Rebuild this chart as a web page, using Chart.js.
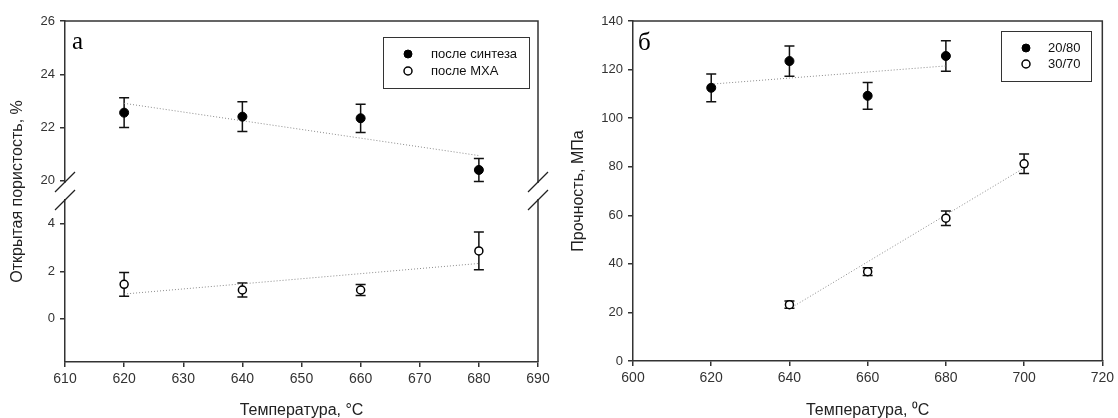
<!DOCTYPE html>
<html><head><meta charset="utf-8">
<script src="https://cdn.jsdelivr.net/npm/chart.js@4.4.1/dist/chart.umd.min.js"></script>
<style>
html,body{margin:0;padding:0;background:#fff;}
#wrap{position:relative;width:1118px;height:418px;overflow:hidden;background:#fff;}
.pane{position:absolute;top:0;width:559px;height:418px;}
</style></head><body>
<div id="wrap">
<div class="pane" style="left:0"><canvas id="cA" width="559" height="418"></canvas></div>
<div class="pane" style="left:559px"><canvas id="cB" width="559" height="418"></canvas></div>
</div>
<script>
// ---------- data: panel а ----------
const tempA = [620, 640, 660, 680];
const synthVals = [22.56, 22.41, 22.35, 20.41];
const synthErr = [0.56, 0.56, 0.53, 0.43];
const mhaVals = [1.45, 1.21, 1.21, 2.86];
const mhaErr = [0.50, 0.30, 0.23, 0.80];
const trendAX = [620, 680];
const synthTrendY = [22.91, 20.95];
const mhaTrendY = [1.04, 2.33];
const xTicksA = [610, 620, 630, 640, 650, 660, 670, 680, 690];
const yTopTicksA = [20, 22, 24, 26];
const yBotTicksA = [0, 2, 4];
// ---------- data: panel б ----------
const tempB1 = [620, 640, 660, 680];
const vals2080 = [112.5, 123.5, 109.2, 125.6];
const err2080 = [5.7, 6.2, 5.5, 6.3];
const tempB2 = [640, 660, 680, 700];
const vals3070 = [23.2, 36.8, 58.8, 81.2];
const err3070 = [1.5, 1.6, 3.0, 4.0];
const trend2080X = [620, 680];
const trend2080Y = [114.0, 121.5];
const trend3070X = [640, 700];
const trend3070Y = [21.5, 79.5];
const xTicksB = [600, 620, 640, 660, 680, 700, 720];
const yTicksB = [0, 20, 40, 60, 80, 100, 120, 140];

const pts = (xs, ys) => xs.map((x, i) => ({x: x, y: ys[i]}));

const FONT = "'Liberation Sans', Arial, Helvetica, sans-serif";
const SERIF = "'Liberation Serif', 'Times New Roman', serif";
const AXIS = '#333';
Chart.defaults.font.family = FONT;
Chart.defaults.color = '#222';
Chart.defaults.animation = false;

const errorBarPlugin = {
  id: 'errbars',
  beforeDatasetsDraw(chart) {
    const ctx = chart.ctx;
    chart.data.datasets.forEach((ds, i) => {
      if (!ds.errors) return;
      const meta = chart.getDatasetMeta(i);
      const ys = chart.scales[ds.yAxisID];
      ctx.save();
      ctx.strokeStyle = '#111';
      ctx.lineWidth = 1.5;
      meta.data.forEach((pt, j) => {
        const v = ds.data[j].y, e = ds.errors[j];
        const yt = ys.getPixelForValue(v + e), yb = ys.getPixelForValue(v - e);
        const x = pt.x;
        ctx.beginPath();
        ctx.moveTo(x, yt); ctx.lineTo(x, yb);
        ctx.moveTo(x - 5, yt); ctx.lineTo(x + 5, yt);
        ctx.moveTo(x - 5, yb); ctx.lineTo(x + 5, yb);
        ctx.stroke();
      });
      ctx.restore();
    });
  }
};

const framePlugin = {
  id: 'frame',
  afterDraw(chart, args, opts) {
    const ctx = chart.ctx, a = chart.chartArea;
    ctx.save();
    ctx.strokeStyle = AXIS;
    ctx.lineWidth = 1.5;
    ctx.beginPath();
    ctx.moveTo(a.left, a.top); ctx.lineTo(a.right, a.top); ctx.lineTo(a.right, a.bottom);
    ctx.stroke();
    if (opts.breakScale) {
      const yb = chart.scales[opts.breakScale].top;
      [a.left, a.right].forEach(x => {
        ctx.fillStyle = '#fff';
        ctx.fillRect(x - 3, yb - 8, 6, 16);
        ctx.strokeStyle = '#222';
        ctx.lineWidth = 1.3;
        [yb - 9, yb + 9].forEach(cy => {
          ctx.beginPath();
          ctx.moveTo(x - 10, cy + 10);
          ctx.lineTo(x + 10, cy - 10);
          ctx.stroke();
        });
      });
    }
    ctx.restore();
  }
};

const boxLegendPlugin = {
  id: 'boxLegend',
  afterDraw(chart, args, o) {
    const ctx = chart.ctx;
    ctx.save();
    ctx.lineWidth = 1;
    ctx.strokeStyle = '#333';
    ctx.strokeRect(o.x + 0.5, o.y + 0.5, o.w, o.h);
    ctx.font = o.fontSize + 'px ' + FONT;
    ctx.textBaseline = 'middle';
    o.items.forEach((idx, k) => {
      const ds = chart.data.datasets[idx];
      const cy = o.y + o.rowY[k];
      ctx.beginPath();
      ctx.arc(o.x + o.markerX, cy, o.r, 0, Math.PI * 2);
      ctx.fillStyle = ds.pointBackgroundColor;
      ctx.fill();
      ctx.lineWidth = ds.pointBorderWidth;
      ctx.strokeStyle = ds.pointBorderColor;
      ctx.stroke();
      ctx.fillStyle = '#111';
      ctx.fillText(ds.label, o.x + o.textX, cy);
    });
    ctx.restore();
  }
};

const panelTextPlugin = {
  id: 'panelText',
  afterDraw(chart, args, o) {
    const ctx = chart.ctx;
    ctx.save();
    ctx.fillStyle = '#000';
    ctx.font = '25px ' + SERIF;
    ctx.textBaseline = 'alphabetic';
    ctx.fillText(o.letter, o.lx, o.ly);
    if (o.yTitle) {
      const a = chart.chartArea;
      ctx.translate(o.yTitleX, (a.top + a.bottom) / 2);
      ctx.rotate(-Math.PI / 2);
      ctx.font = '16px ' + FONT;
      ctx.fillStyle = '#222';
      ctx.textAlign = 'center';
      ctx.textBaseline = 'middle';
      ctx.fillText(o.yTitle, 0, 0);
    }
    ctx.restore();
  }
};

function gridOpts() {
  return {display: true, drawOnChartArea: false, drawTicks: true, tickLength: 5, color: AXIS, lineWidth: 1.5};
}
function fixedTicks(arr) {
  return s => { s.ticks = arr.map(v => ({value: v})); };
}
function filled(label, data, err, yId) {
  return {type: 'scatter', label: label, data: data, errors: err, yAxisID: yId,
    pointRadius: 4.5, pointHoverRadius: 4.5, pointBackgroundColor: '#000',
    pointBorderColor: '#000', pointBorderWidth: 1, showLine: false};
}
function open(label, data, err, yId) {
  return {type: 'scatter', label: label, data: data, errors: err, yAxisID: yId,
    pointRadius: 4, pointHoverRadius: 4, pointBackgroundColor: '#fff',
    pointBorderColor: '#000', pointBorderWidth: 1.5, showLine: false};
}
function trend(data, yId) {
  return {type: 'line', data: data, yAxisID: yId, borderColor: '#8a8a8a', borderWidth: 1,
    borderDash: [1, 2], pointRadius: 0, pointHoverRadius: 0, fill: false, tension: 0};
}

// ---------- Panel а ----------
new Chart(document.getElementById('cA'), {
  type: 'scatter',
  data: {
    datasets: [
      filled('после синтеза', pts(tempA, synthVals), synthErr, 'yTop'),
      open('после МХА', pts(tempA, mhaVals), mhaErr, 'yBot'),
      trend(pts(trendAX, synthTrendY), 'yTop'),
      trend(pts(trendAX, mhaTrendY), 'yBot')
    ]
  },
  options: {
    responsive: false, devicePixelRatio: 1, events: [],
    layout: {padding: {left: 0, right: 21, top: 21, bottom: 0}},
    plugins: {
      legend: {display: false}, tooltip: {enabled: false},
      frame: {breakScale: 'yBot'},
      boxLegend: {x: 383, y: 37, w: 146, h: 51, markerX: 25, textX: 48, rowY: [17, 34], r: 4, fontSize: 13, items: [0, 1]},
      panelText: {letter: 'а', lx: 72, ly: 49, yTitle: 'Открытая пористость, %', yTitleX: 18}
    },
    scales: {
      x: {type: 'linear', min: 610, max: 690, afterBuildTicks: fixedTicks(xTicksA),
        afterFit: s => { s.height = 56; },
        grid: gridOpts(), border: {display: true, color: AXIS, width: 1.5},
        ticks: {font: {size: 14}, color: '#333', padding: 4, maxRotation: 0, autoSkip: false},
        title: {display: true, text: 'Температура, °C', font: {size: 16}, color: '#222', padding: {top: 0, bottom: -2}}},
      yBot: {type: 'linear', position: 'left', stack: 'p', stackWeight: 171, min: -1.83, max: 5.39,
        afterBuildTicks: fixedTicks(yBotTicksA), afterFit: s => { s.width = 65; },
        grid: gridOpts(), border: {display: true, color: AXIS, width: 1.5},
        ticks: {font: {size: 13}, color: '#333', padding: 5}},
      yTop: {type: 'linear', position: 'left', stack: 'p', stackWeight: 170, min: 19.62, max: 26,
        afterBuildTicks: fixedTicks(yTopTicksA), afterFit: s => { s.width = 65; },
        grid: gridOpts(), border: {display: true, color: AXIS, width: 1.5},
        ticks: {font: {size: 13}, color: '#333', padding: 5}}
    }
  },
  plugins: [errorBarPlugin, framePlugin, boxLegendPlugin, panelTextPlugin]
});

// ---------- Panel б ----------
new Chart(document.getElementById('cB'), {
  type: 'scatter',
  data: {
    datasets: [
      filled('20/80', pts(tempB1, vals2080), err2080, 'y'),
      open('30/70', pts(tempB2, vals3070), err3070, 'y'),
      trend(pts(trend2080X, trend2080Y), 'y'),
      trend(pts(trend3070X, trend3070Y), 'y')
    ]
  },
  options: {
    responsive: false, devicePixelRatio: 1, events: [],
    layout: {padding: {left: 0, right: 13, top: 21, bottom: 0}},
    plugins: {
      legend: {display: false}, tooltip: {enabled: false},
      frame: {},
      boxLegend: {x: 442, y: 31, w: 90, h: 50, markerX: 25, textX: 47, rowY: [17, 33], r: 4, fontSize: 13, items: [0, 1]},
      panelText: {letter: 'б', lx: 79, ly: 50}
    },
    scales: {
      x: {type: 'linear', min: 600, max: 720, afterBuildTicks: fixedTicks(xTicksB),
        afterFit: s => { s.height = 57; },
        grid: gridOpts(), border: {display: true, color: AXIS, width: 1.5},
        ticks: {font: {size: 14}, color: '#333', padding: 4, maxRotation: 0, autoSkip: false},
        title: {display: true, text: 'Температура, ⁰C', font: {size: 16}, color: '#222', padding: {top: 0, bottom: -2}}},
      y: {type: 'linear', position: 'left', min: 0, max: 140,
        afterBuildTicks: fixedTicks(yTicksB), afterFit: s => { s.width = 74; },
        grid: gridOpts(), border: {display: true, color: AXIS, width: 1.5},
        ticks: {font: {size: 13}, color: '#333', padding: 5},
        title: {display: true, text: 'Прочность, МПа', font: {size: 16}, color: '#222', padding: {top: 10, bottom: 0}}}
    }
  },
  plugins: [errorBarPlugin, framePlugin, boxLegendPlugin, panelTextPlugin]
});
</script>
</body></html>
